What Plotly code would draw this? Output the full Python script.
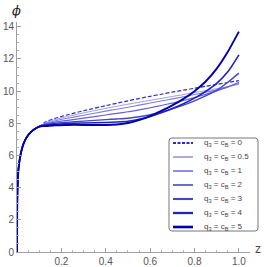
import plotly.graph_objects as go

# ---------------- data ----------------
z_rise = [0, 0.0005, 0.001, 0.002, 0.004, 0.007, 0.011, 0.016, 0.022, 0.03, 0.04, 0.055, 0.075, 0.1]
phi_rise = [0, 1.8, 2.8, 3.8, 4.6, 5.2, 5.65, 6.05, 6.4, 6.75, 7.05, 7.35, 7.6, 7.8]

z_tail = [0.13, 0.17, 0.22, 0.3, 0.4, 0.45, 0.5, 0.55, 0.6, 0.65, 0.7, 0.75, 0.8, 0.85, 0.9, 0.95, 1.0]

phi_q0 = [8.1, 8.3, 8.5, 8.78, 9.1, 9.25, 9.4, 9.54, 9.68, 9.81, 9.94, 10.06, 10.18, 10.3, 10.42, 10.54, 10.66]
phi_q05 = [8.05, 8.22, 8.4, 8.65, 8.93, 9.06, 9.19, 9.31, 9.43, 9.55, 9.67, 9.79, 9.91, 10.03, 10.16, 10.29, 10.42]
phi_q1 = [8.0, 8.15, 8.3, 8.5, 8.76, 8.88, 9.0, 9.13, 9.26, 9.39, 9.52, 9.65, 9.79, 9.93, 10.08, 10.25, 10.47]
phi_q2 = [7.97, 8.07, 8.17, 8.32, 8.52, 8.62, 8.72, 8.84, 8.97, 9.11, 9.26, 9.42, 9.6, 9.8, 10.02, 10.27, 10.55]
phi_q3 = [7.93, 8.0, 8.06, 8.14, 8.23, 8.27, 8.32, 8.41, 8.53, 8.7, 8.9, 9.13, 9.4, 9.7, 10.05, 10.55, 11.12]
phi_q4 = [7.88, 7.95, 7.98, 8.02, 8.05, 8.08, 8.13, 8.25, 8.42, 8.65, 8.92, 9.22, 9.57, 9.98, 10.48, 11.2, 12.26]
phi_q5 = [7.83, 7.88, 7.9, 7.9, 7.9, 7.93, 8.02, 8.2, 8.45, 8.77, 9.12, 9.52, 10.0, 10.6, 11.4, 12.45, 13.7]

labels = ["0", "0.5", "1", "2", "3", "4", "5"]
tails = [phi_q0, phi_q05, phi_q1, phi_q2, phi_q3, phi_q4, phi_q5]

x_ticks = [0.2, 0.4, 0.6, 0.8, 1.0]
y_ticks = [0, 2, 4, 6, 8, 10, 12, 14]

# ---------------- styles ----------------
colors = ["#2a2ad0", "#9c9ce6", "#8080df", "#6262d6", "#4444cc", "#2222bf", "#0000ad"]
widths = [1.2, 1.0, 1.1, 1.2, 1.4, 1.6, 1.9]
dashes = ["dash", "solid", "solid", "solid", "solid", "solid", "solid"]

fig = go.Figure()
for lab, tail, c, w, d in zip(labels, tails, colors, widths, dashes):
    fig.add_trace(go.Scatter(
        x=z_rise + z_tail, y=phi_rise + tail, mode="lines",
        line=dict(color=c, width=w, dash=d if d != "dash" else "4px,2px", shape="spline", smoothing=0.6),
        name=lab, showlegend=False, hoverinfo="skip"))

W, H = 267, 267
# plot area in window pixels: x 17..250, y 22..252
ML, MT = 17, 22
MR, MB = W - 250, H - 252
PW, PH = W - ML - MR, H - MT - MB

def px2paper(px, py):
    return (px - ML) / PW, (H - MB - py) / PH

shapes = []
annotations = []

# legend box with rounded corners
bx0, by0, bx1, by1, r = 169, 138, 258, 231, 3
def P(px, py):
    x, y = px2paper(px, py)
    return f"{x:.5f},{y:.5f}"
path = (f"M {P(bx0 + r, by0)} L {P(bx1 - r, by0)} Q {P(bx1, by0)} {P(bx1, by0 + r)} "
        f"L {P(bx1, by1 - r)} Q {P(bx1, by1)} {P(bx1 - r, by1)} "
        f"L {P(bx0 + r, by1)} Q {P(bx0, by1)} {P(bx0, by1 - r)} "
        f"L {P(bx0, by0 + r)} Q {P(bx0, by0)} {P(bx0 + r, by0)} Z")
shapes.append(dict(type="path", xref="paper", yref="paper", path=path,
                   line=dict(color="#777777", width=1), fillcolor="white", layer="above"))

for i, (lab, c, w, d) in enumerate(zip(labels, colors, widths, dashes)):
    py = 143 + i * 14
    x0, y0 = px2paper(173, py)
    x1, _ = px2paper(193, py)
    shapes.append(dict(type="line", xref="paper", yref="paper", x0=x0, x1=x1, y0=y0, y1=y0,
                       line=dict(color=c, width=w + 0.7, dash="3px,1.5px" if d == "dash" else "solid"),
                       layer="above"))
    tx, _ = px2paper(202, py)
    annotations.append(dict(xref="paper", yref="paper", x=tx, y=y0, xanchor="left", yanchor="middle",
                            text=f"q<sub>3</sub> = c<sub>B</sub> = {lab}", showarrow=False,
                            font=dict(family="Liberation Sans", size=8, color="#444444")))

ax_font = dict(family="Liberation Sans", size=10, color="#555555")
zx, zy = px2paper(258, 249)
annotations.append(dict(xref="paper", yref="paper", x=zx, y=zy, text="z", showarrow=False,
                        xanchor="center", yanchor="middle",
                        font=dict(family="Liberation Sans", size=12, color="#444444")))
fx, fy = px2paper(16, 10)
annotations.append(dict(xref="paper", yref="paper", x=fx, y=fy, text="<i>ϕ</i>", showarrow=False,
                        xanchor="center", yanchor="middle",
                        font=dict(family="DejaVu Serif", size=13, color="#222222")))

fig.update_layout(
    width=W, height=H, margin=dict(l=ML, r=MR, t=MT, b=MB, pad=0, autoexpand=False),
    paper_bgcolor="white", plot_bgcolor="white",
    shapes=shapes, annotations=annotations,
    xaxis=dict(range=[0, 1.05], automargin=False, showgrid=False, zeroline=False, showline=True,
               linecolor="#a0a0a0", linewidth=1, ticks="inside", ticklen=4, tickcolor="#a0a0a0",
               tickvals=x_ticks, ticktext=[f"{v:.1f}" for v in x_ticks], tickfont=ax_font,
               minor=dict(dtick=0.05, tick0=0, ticks="inside", ticklen=2, tickcolor="#b0b0b0")),
    yaxis=dict(range=[0, 14.3], automargin=False, showgrid=False, zeroline=False, showline=True,
               linecolor="#a0a0a0", linewidth=1, ticks="inside", ticklen=4, tickcolor="#a0a0a0",
               tickvals=y_ticks, tickfont=ax_font,
               minor=dict(dtick=0.5, tick0=0, ticks="inside", ticklen=2, tickcolor="#b0b0b0")),
)

fig.write_html("out.html", config={"displayModeBar": False, "staticPlot": True},
               post_script="document.body.style.margin='0';document.body.style.overflow='hidden';")
